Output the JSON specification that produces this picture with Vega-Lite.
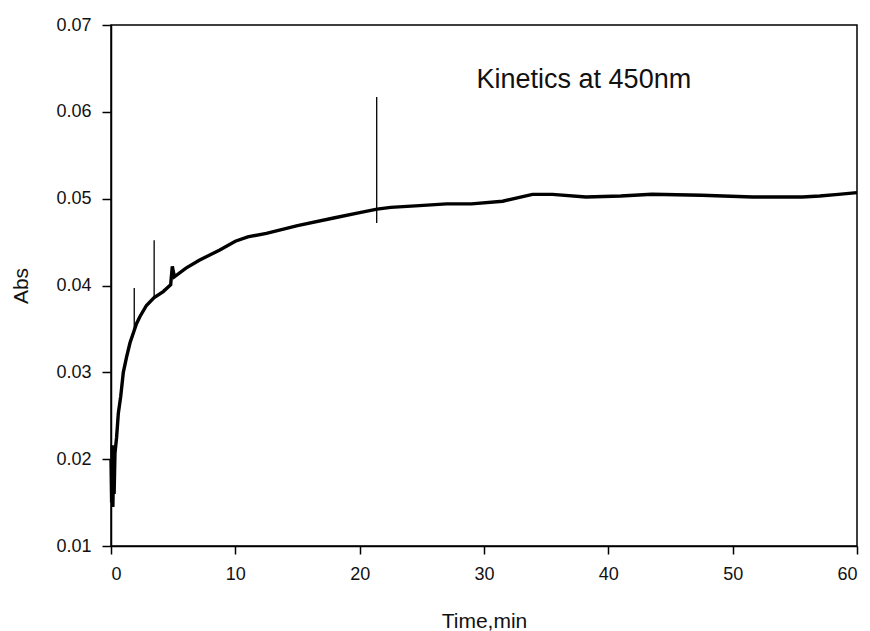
{
  "$schema": "https://vega.github.io/schema/vega-lite/v6.json",
  "autosize": "none",
  "padding": {"left": 111, "top": 25, "right": 13, "bottom": 85},
  "width": 746,
  "height": 521,
  "background": "white",
  "config": {
    "font": "Liberation Sans",
    "view": {"stroke": "black", "strokeWidth": 1.5},
    "axis": {
      "grid": false,
      "domainColor": "black",
      "domainWidth": 1.5,
      "tickColor": "black",
      "tickWidth": 1.5,
      "labelColor": "#111",
      "titleColor": "#111",
      "labelFont": "Liberation Sans",
      "titleFont": "Liberation Sans",
      "titleFontWeight": "normal"
    }
  },
  "datasets": {
    "curve": [
      {"t": 0.0, "v": 0.0200},
      {"t": 0.05, "v": 0.0150},
      {"t": 0.1, "v": 0.0216},
      {"t": 0.15, "v": 0.0145},
      {"t": 0.2, "v": 0.0190},
      {"t": 0.25, "v": 0.0160},
      {"t": 0.32, "v": 0.0207},
      {"t": 0.45, "v": 0.0225},
      {"t": 0.59, "v": 0.0253},
      {"t": 0.78, "v": 0.0272},
      {"t": 0.99, "v": 0.0300},
      {"t": 1.26, "v": 0.0318},
      {"t": 1.53, "v": 0.0334},
      {"t": 1.79, "v": 0.0345},
      {"t": 2.05, "v": 0.0356},
      {"t": 2.32, "v": 0.0364},
      {"t": 2.85, "v": 0.0377},
      {"t": 3.47, "v": 0.0386},
      {"t": 4.2, "v": 0.0393},
      {"t": 4.8, "v": 0.0401},
      {"t": 4.93, "v": 0.0422},
      {"t": 5.1, "v": 0.0410},
      {"t": 6.03, "v": 0.0420},
      {"t": 7.1, "v": 0.0429},
      {"t": 8.75, "v": 0.0441},
      {"t": 10, "v": 0.0451},
      {"t": 11, "v": 0.0456},
      {"t": 12.5, "v": 0.0460},
      {"t": 15, "v": 0.0469},
      {"t": 18, "v": 0.0478},
      {"t": 20, "v": 0.0484},
      {"t": 21.4, "v": 0.0488},
      {"t": 22.5, "v": 0.0490},
      {"t": 24.8, "v": 0.0492},
      {"t": 27, "v": 0.0494},
      {"t": 29, "v": 0.0494},
      {"t": 31.5, "v": 0.0497},
      {"t": 33.9, "v": 0.0505},
      {"t": 35.5, "v": 0.0505},
      {"t": 38.2, "v": 0.0502},
      {"t": 41, "v": 0.0503},
      {"t": 43.5, "v": 0.0505},
      {"t": 47.5, "v": 0.0504},
      {"t": 51.6, "v": 0.0502},
      {"t": 55.6, "v": 0.0502},
      {"t": 57, "v": 0.0503},
      {"t": 58.5, "v": 0.0505},
      {"t": 60, "v": 0.0507}
    ],
    "spikes": [
      {"t": 1.87, "lo": 0.0345, "hi": 0.0397},
      {"t": 3.47, "lo": 0.0386, "hi": 0.0452},
      {"t": 21.37, "lo": 0.0472, "hi": 0.0617}
    ],
    "label": [
      {"t": 29.4, "v": 0.0628, "text": "Kinetics at 450nm"}
    ]
  },
  "layer": [
    {
      "data": {"name": "curve"},
      "mark": {"type": "line", "color": "black", "strokeWidth": 3.4, "interpolate": "linear"},
      "encoding": {
        "x": {
          "field": "t", "type": "quantitative",
          "scale": {"domain": [0, 60], "nice": false, "zero": false},
          "axis": {
            "title": "Time,min",
            "values": [0, 10, 20, 30, 40, 50, 60],
            "tickSize": 8,
            "labelPadding": 11,
            "labelFontSize": 18,
            "titleFontSize": 21,
            "titlePadding": 27
          }
        },
        "y": {
          "field": "v", "type": "quantitative",
          "scale": {"domain": [0.01, 0.07], "nice": false, "zero": false},
          "axis": {
            "title": "Abs",
            "values": [0.01, 0.02, 0.03, 0.04, 0.05, 0.06, 0.07],
            "format": ".2f",
            "tickSize": 9,
            "labelPadding": 11,
            "labelFontSize": 18,
            "titleFontSize": 21,
            "titlePadding": 24
          }
        }
      }
    },
    {
      "data": {"name": "spikes"},
      "mark": {"type": "rule", "color": "black", "strokeWidth": 1.3},
      "encoding": {
        "x": {"field": "t", "type": "quantitative"},
        "y": {"field": "lo", "type": "quantitative"},
        "y2": {"field": "hi"}
      }
    },
    {
      "data": {"name": "label"},
      "mark": {"type": "text", "align": "left", "baseline": "alphabetic", "fontSize": 27, "font": "Liberation Sans", "color": "#111"},
      "encoding": {
        "x": {"field": "t", "type": "quantitative"},
        "y": {"field": "v", "type": "quantitative"},
        "text": {"field": "text"}
      }
    }
  ]
}
